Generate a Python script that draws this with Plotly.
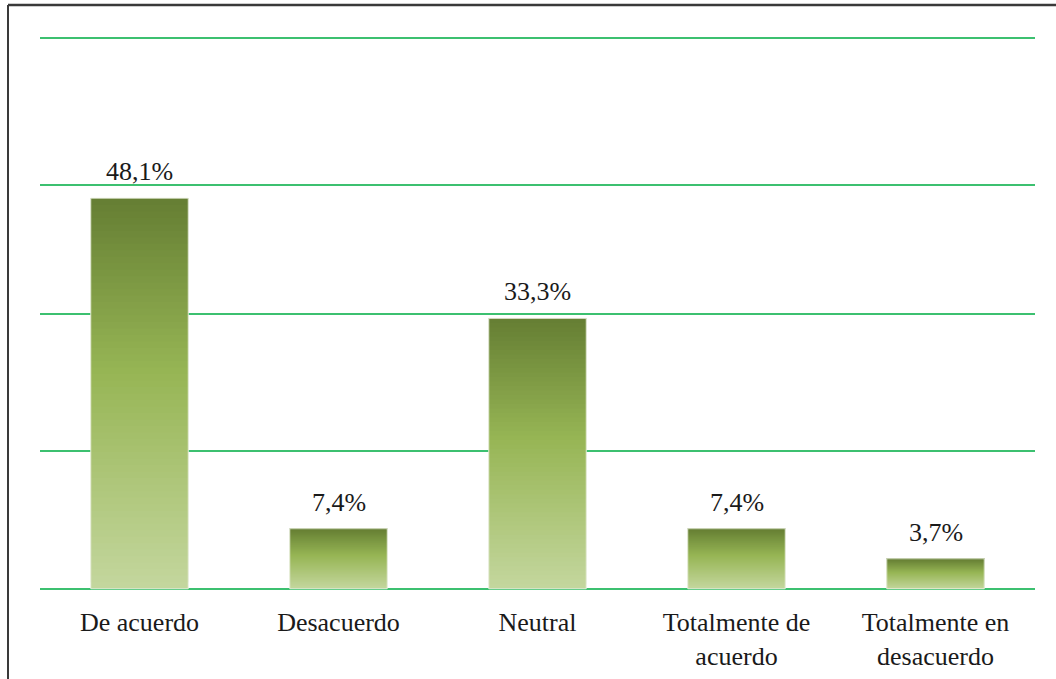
import plotly.graph_objects as go

categories = ["De acuerdo", "Desacuerdo", "Neutral", "Totalmente de<br>acuerdo", "Totalmente en<br>desacuerdo"]
values = [48.1, 7.4, 33.3, 7.4, 3.7]
labels = ["48,1%", "7,4%", "33,3%", "7,4%", "3,7%"]
grid_vals = [0, 17, 33.9, 49.7, 67.8]

# gradient stops (fraction from bottom -> color)
stops = [(0.0, (196, 214, 158)), (0.55, (151, 182, 85)), (1.0, (101, 126, 51))]

def grad(t):
    for (t0, c0), (t1, c1) in zip(stops[:-1], stops[1:]):
        if t0 <= t <= t1:
            f = (t - t0) / (t1 - t0)
            c = [round(a + (b - a) * f) for a, b in zip(c0, c1)]
            return "rgb(%d,%d,%d)" % tuple(c)
    return "rgb(%d,%d,%d)" % stops[-1][1]

N = 60
fig = go.Figure()
for i in range(N):
    t = (i + 0.5) / N
    bases = [v * i / N for v in values]
    heights = [min(v / N * 2.0, v - b) for v, b in zip(values, bases)]
    fig.add_trace(go.Bar(
        x=categories,
        base=bases,
        y=heights,
        marker=dict(color=grad(t), line=dict(width=0)),
        hoverinfo="skip",
        showlegend=False,
    ))

# thin light outline
fig.add_trace(go.Bar(
    x=categories, y=values,
    marker=dict(color="rgba(0,0,0,0)", line=dict(color="rgba(235,240,225,0.9)", width=1)),
    hoverinfo="skip", showlegend=False,
))

for c, v, lab in zip(categories, values, labels):
    fig.add_annotation(x=c, y=v, text=lab, showarrow=False, yanchor="bottom",
                       yshift=10, font=dict(family="Liberation Serif", size=26, color="#1a1a1a"))

fig.update_layout(
    width=1056, height=679,
    barmode="overlay", bargap=0.51,
    plot_bgcolor="white", paper_bgcolor="white",
    margin=dict(l=40, r=21, t=37, b=89, autoexpand=False),
    font=dict(family="Liberation Serif", size=26, color="#1a1a1a"),
    xaxis=dict(showgrid=False, showline=False, ticks="", tickfont=dict(size=26),
               ticklabelstandoff=14, automargin=False),
    yaxis=dict(range=[-0.15, 67.95], tickvals=grid_vals, showticklabels=False,
               showgrid=True, gridcolor="#3cc070", gridwidth=2,
               zeroline=False, showline=False, automargin=False),
)

# frame border (top and left edges): at px x=8, y=5
x_left = (8 - 40) / 995
y_top = (590 - 5) / 553
fig.add_shape(type="line", xref="paper", yref="paper",
              x0=x_left, x1=1.05, y0=y_top, y1=y_top,
              line=dict(color="#3a3a3a", width=2.5))
fig.add_shape(type="line", xref="paper", yref="paper",
              x0=x_left, x1=x_left, y0=y_top, y1=-0.2,
              line=dict(color="#3a3a3a", width=2))

fig.write_html("out.html", config={"displayModeBar": False},
               post_script="document.body.style.margin='0';")
